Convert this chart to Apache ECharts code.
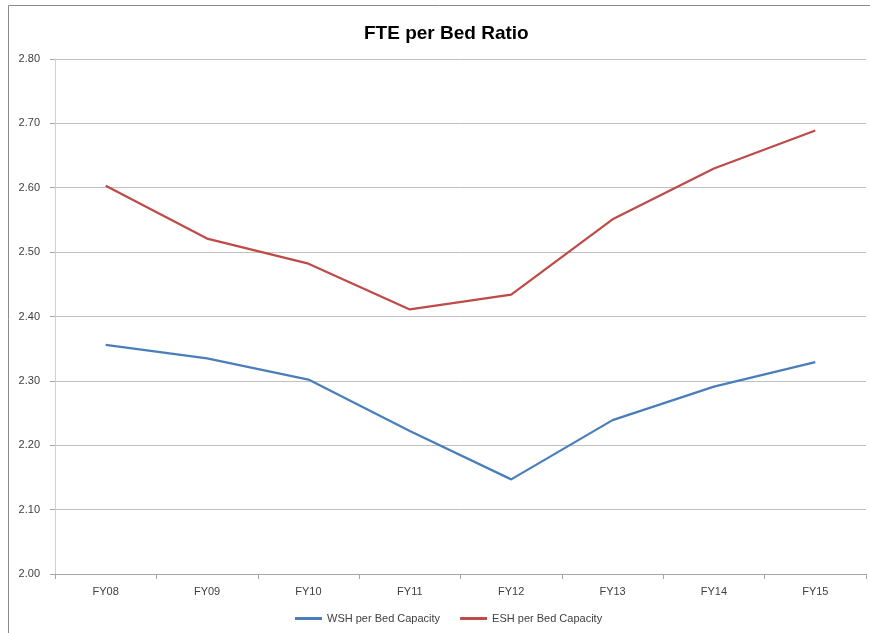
<!DOCTYPE html>
<html><head><meta charset="utf-8">
<script src="https://cdn.jsdelivr.net/npm/echarts@6/dist/echarts.min.js"></script>
<style>html,body{margin:0;padding:0;background:#fff}#c{width:870px;height:633px}</style>
</head><body><div id="c"></div>
<script>
const categories = ['FY08','FY09','FY10','FY11','FY12','FY13','FY14','FY15'];
const wshValues = [2.356, 2.335, 2.302, 2.222, 2.147, 2.239, 2.291, 2.329];
const eshValues = [2.603, 2.521, 2.482, 2.411, 2.434, 2.551, 2.630, 2.689];
const seriesNames = ['WSH per Bed Capacity', 'ESH per Bed Capacity'];
const titleText = 'FTE per Bed Ratio';

const chart = echarts.init(document.getElementById('c'), null, {renderer:'canvas'});
const font = 'Liberation Sans, Arial, sans-serif';
chart.setOption({
  animation: false,
  backgroundColor: '#fff',
  graphic: [{
    type: 'rect', shape: {x: 8.5, y: 5.5, width: 1000, height: 1000},
    style: {fill: 'none', stroke: '#8a8a8a', lineWidth: 1}, silent: true
  }],
  title: {
    text: titleText, left: 359, top: 19,
    textStyle: {fontFamily: font, fontSize: 19, fontWeight: 'bold', color: '#000'}
  },
  legend: {
    top: 608, left: 290, itemWidth: 27, itemHeight: 3, itemGap: 20,
    icon: 'rect',
    textStyle: {fontFamily: font, fontSize: 11, color: '#404040'},
    data: seriesNames
  },
  grid: {left: 55, right: 4, top: 59, bottom: 59, containLabel: false},
  xAxis: {
    type: 'category', data: categories, boundaryGap: true,
    axisLine: {lineStyle: {color: '#a6a6a6'}},
    axisTick: {show: true, interval: 0, length: 5, lineStyle: {color: '#a6a6a6'}},
    axisLabel: {fontFamily: font, fontSize: 11, color: '#404040', margin: 12},
    splitLine: {show: false}
  },
  yAxis: {
    type: 'value', min: 2.0, max: 2.8, interval: 0.1,
    axisLine: {show: true, lineStyle: {color: '#d0d0d0'}},
    axisTick: {show: true, length: 5, lineStyle: {color: '#a6a6a6'}},
    axisLabel: {fontFamily: font, fontSize: 11, color: '#404040', margin: 15,
      formatter: v => v.toFixed(2)},
    splitLine: {lineStyle: {color: '#c0c0c0', width: 1}}
  },
  series: [
    {name: seriesNames[0], type: 'line', data: wshValues, symbol: 'none',
     lineStyle: {color: '#4a7ebb', width: 2.25}, itemStyle: {color: '#4a7ebb'}},
    {name: seriesNames[1], type: 'line', data: eshValues, symbol: 'none',
     lineStyle: {color: '#be4b48', width: 2.25}, itemStyle: {color: '#be4b48'}}
  ]
});
</script></body></html>
